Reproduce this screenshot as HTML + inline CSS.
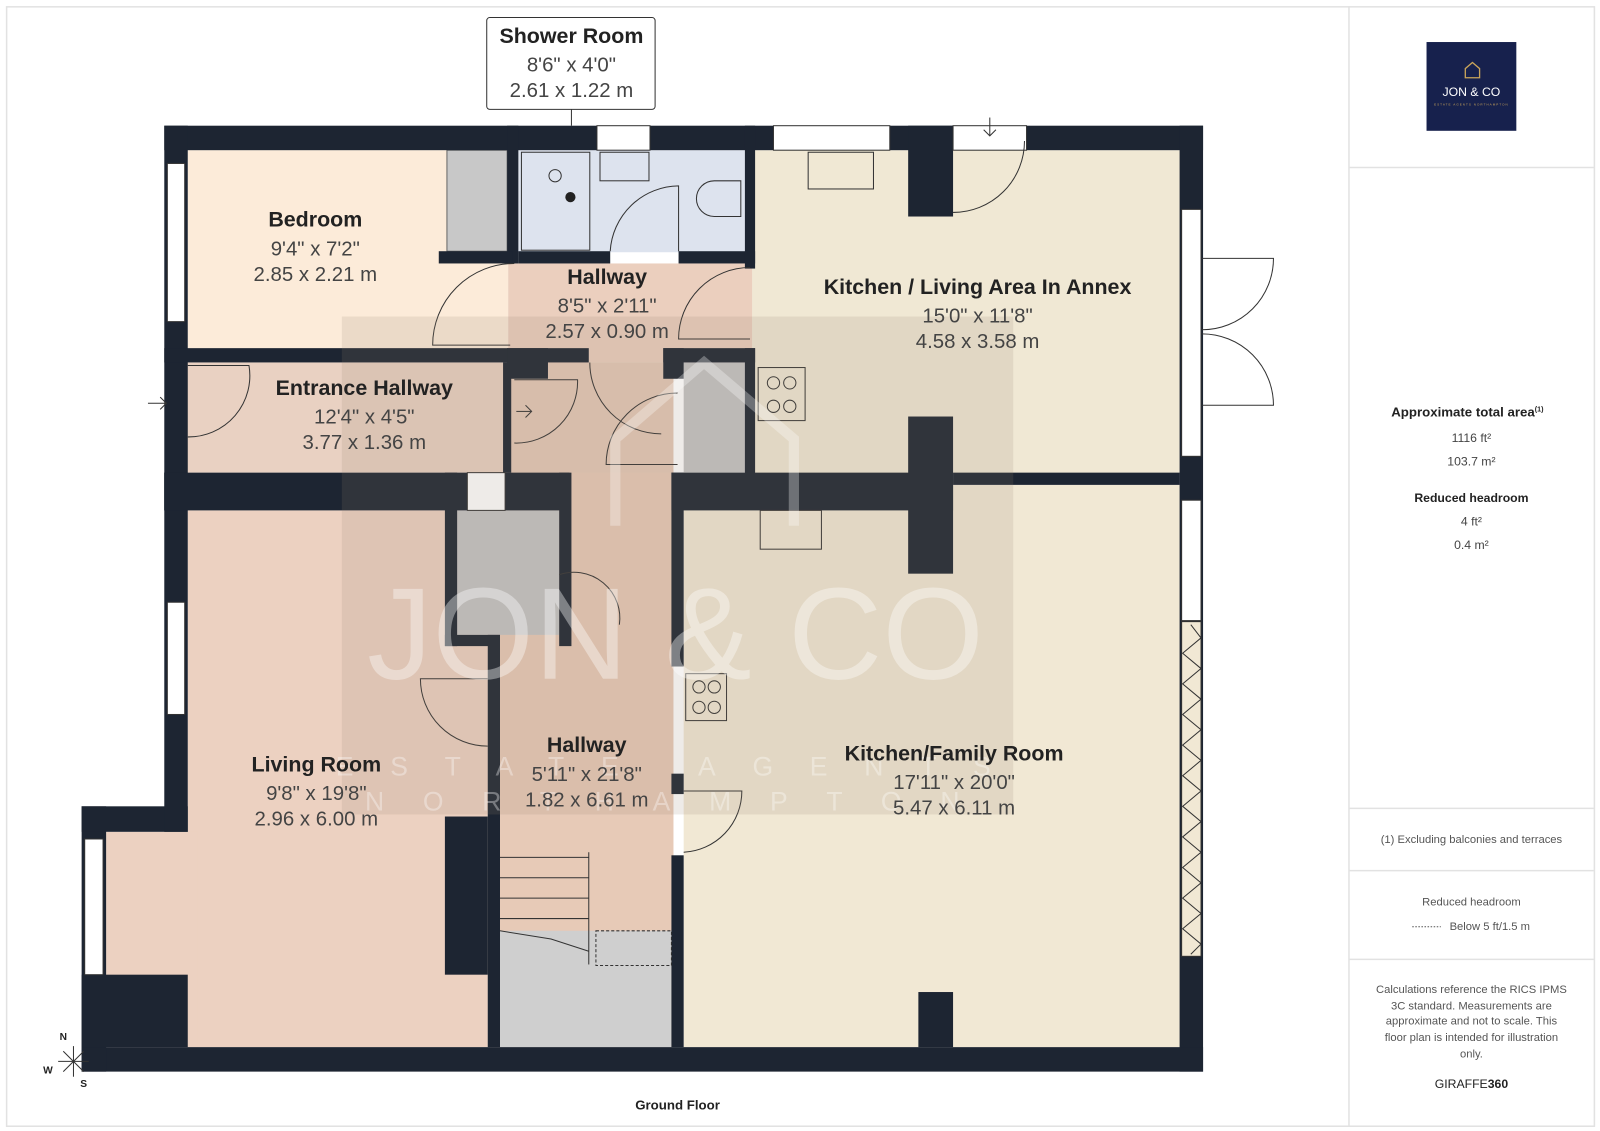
<!DOCTYPE html>
<html><head><meta charset="utf-8"><style>
html,body{margin:0;padding:0;background:#fff}
svg{display:block}
text{font-family:"Liberation Sans",sans-serif}
</style></head><body>
<svg width="1600" height="1131" viewBox="0 0 1568 1108" xmlns="http://www.w3.org/2000/svg">
<rect x="0" y="0" width="1568" height="1108" fill="#fff"/>
<rect x="6.5" y="6.5" width="1556" height="1097" fill="none" stroke="#e2e2e2" stroke-width="1.5"/>
<line x1="1322" y1="6" x2="1322" y2="1103" stroke="#e2e2e2" stroke-width="1.5"/>
<g stroke="#e2e2e2" stroke-width="1.5">
<line x1="1322" y1="164" x2="1562" y2="164"/>
<line x1="1322" y1="792" x2="1562" y2="792"/>
<line x1="1322" y1="853" x2="1562" y2="853"/>
<line x1="1322" y1="940" x2="1562" y2="940"/>
</g>
<!-- logo -->
<rect x="1398" y="41" width="88" height="87" fill="#17214d"/>
<path d="M1436 76 v-9 l7 -6 l7 6 v9 z" fill="none" stroke="#c9a45a" stroke-width="1.3"/>
<text x="1442" y="94" font-size="12" fill="#fff" text-anchor="middle">JON &amp; CO</text>
<text x="1442" y="103" font-size="3" fill="#c9a45a" text-anchor="middle" letter-spacing="1">ESTATE AGENTS NORTHAMPTON</text>
<!-- right text -->
<g fill="#222" text-anchor="middle">
<text x="1438" y="408" font-size="13" font-weight="bold">Approximate total area<tspan font-size="7" dy="-5">(1)</tspan></text>
<text x="1442" y="433" font-size="12" fill="#444">1116 ft²</text>
<text x="1442" y="456" font-size="12" fill="#444">103.7 m²</text>
<text x="1442" y="492" font-size="12" font-weight="bold">Reduced headroom</text>
<text x="1442" y="515" font-size="12" fill="#444">4 ft²</text>
<text x="1442" y="538" font-size="12" fill="#444">0.4 m²</text>
<text x="1442" y="826" font-size="11" fill="#555">(1) Excluding balconies and terraces</text>
<text x="1442" y="887" font-size="11" fill="#555">Reduced headroom</text>
<text x="1460" y="911" font-size="11" fill="#555">Below 5 ft/1.5 m</text>
<text x="1442" y="973" font-size="11" fill="#555">Calculations reference the RICS IPMS</text>
<text x="1442" y="989" font-size="11" fill="#555">3C standard. Measurements are</text>
<text x="1442" y="1004" font-size="11" fill="#555">approximate and not to scale. This</text>
<text x="1442" y="1020" font-size="11" fill="#555">floor plan is intended for illustration</text>
<text x="1442" y="1036" font-size="11" fill="#555">only.</text>
<text x="1442" y="1066" font-size="12" fill="#222">GIRAFFE<tspan font-weight="bold">360</tspan></text>
</g>
<line x1="1384" y1="908" x2="1412" y2="908" stroke="#555" stroke-dasharray="1.5,1.5"/>

<!-- room fills -->
<rect x="184" y="147" width="314" height="195" fill="#fcebd9"/>
<rect x="438" y="147" width="59" height="99" fill="#c8c8c8" stroke="#666" stroke-width="1"/>
<rect x="508" y="147" width="222" height="100" fill="#dde3ee"/>
<rect x="498" y="258" width="240" height="97" fill="#ebcfbe"/>
<rect x="737" y="147" width="420" height="317" fill="#f0e8d4"/>
<rect x="162" y="355" width="336" height="108" fill="#e9d1c2"/>
<rect x="498" y="355" width="162" height="150" fill="#e4c9b7"/>
<rect x="184" y="500" width="294" height="526" fill="#ecd1c1"/>
<rect x="104" y="815" width="90" height="211" fill="#ecd1c1"/>
<rect x="478" y="463" width="182" height="563" fill="#e7cab7"/>
<rect x="448" y="500" width="100" height="122" fill="#c4c4c4"/>
<rect x="490" y="912" width="168" height="114" fill="#cfcfcf"/>
<rect x="670" y="475" width="487" height="551" fill="#f1e8d4"/>
<rect x="670" y="355" width="67" height="108" fill="#c4c4c4"/>

<!-- walls -->
<g fill="#1d2532">
<rect x="161" y="123" width="1018" height="24"/>
<rect x="161" y="123" width="23" height="377"/>
<rect x="1156" y="123" width="23" height="927"/>
<rect x="80" y="1026" width="1099" height="24"/>
<rect x="80" y="790" width="24" height="260"/>
<rect x="80" y="790" width="104" height="25"/>
<rect x="161" y="463" width="23" height="352"/>
<rect x="80" y="955" width="104" height="71"/>
<rect x="497" y="123" width="11" height="135"/>
<rect x="430" y="246" width="72" height="12"/>
<rect x="508" y="246" width="90" height="12"/>
<rect x="665" y="246" width="75" height="12"/>
<rect x="730" y="123" width="10" height="140"/>
<rect x="890" y="123" width="44" height="89"/>
<rect x="161" y="341" width="337" height="14"/>
<rect x="497" y="341" width="80" height="14"/>
<rect x="497" y="341" width="40" height="30"/>
<rect x="650" y="341" width="90" height="14"/>
<rect x="650" y="341" width="20" height="30"/>
<rect x="730" y="341" width="10" height="130"/>
<rect x="493" y="355" width="8" height="108"/>
<rect x="161" y="463" width="300" height="37"/>
<rect x="495" y="463" width="63" height="37"/>
<rect x="436" y="463" width="12" height="170"/>
<rect x="436" y="622" width="54" height="11"/>
<rect x="548" y="463" width="12" height="170"/>
<rect x="478" y="622" width="12" height="404"/>
<rect x="436" y="800" width="42" height="155"/>
<rect x="658" y="463" width="12" height="190"/>
<rect x="658" y="758" width="12" height="20"/>
<rect x="658" y="838" width="12" height="188"/>
<rect x="658" y="463" width="276" height="37"/>
<rect x="890" y="408" width="44" height="154"/>
<rect x="934" y="463" width="222" height="12"/>
<rect x="900" y="972" width="34" height="54"/>
</g>
<!-- windows -->
<g fill="#fff" stroke="#333" stroke-width="1">
<rect x="585" y="123" width="52" height="24"/>
<rect x="758" y="123" width="114" height="24"/>
<rect x="934" y="123" width="72" height="24"/>
<rect x="164" y="160" width="17" height="155"/>
<rect x="164" y="590" width="17" height="110"/>
<rect x="83" y="822" width="18" height="133"/>
<rect x="1158" y="490" width="19" height="118"/>
<rect x="1158" y="205" width="19" height="242"/>
<rect x="458" y="463" width="37" height="37"/>
<rect x="1158" y="609" width="19" height="328" fill="#f1e8d4"/>
</g>
<!-- bifold zigzag -->
<polyline points="1167,612 1177,625 1159,640 1177,655 1159,670 1177,685 1159,700 1177,715 1159,730 1177,745 1159,760 1177,775 1159,790 1177,805 1159,820 1177,835 1159,850 1177,865 1159,880 1177,895 1159,910 1177,925 1167,935" fill="none" stroke="#333" stroke-width="1"/>
<!-- doors -->
<g fill="none" stroke="#333" stroke-width="1">
<path d="M504 258 A80 80 0 0 0 424 338 L500 338"/>
<path d="M598 246 A68 68 0 0 1 665 182 L665 246"/>
<path d="M735 262 A70 70 0 0 0 665 332 L735 332"/>
<path d="M934 208 A70 70 0 0 0 1004 138"/>
<path d="M184 358 L244 358 A60 60 0 0 1 184 428"/>
<path d="M504 372 L566 372 A60 60 0 0 1 504 434"/>
<path d="M578 355 A70 70 0 0 0 648 425"/>
<path d="M664 385 A70 70 0 0 0 594 455 L664 455"/>
<path d="M548 563 A45 45 0 0 1 607 612"/>
<path d="M478 665 L412 665 A66 66 0 0 0 478 731"/>
<path d="M670 775 L727 775 A60 60 0 0 1 670 835"/>
<path d="M1178 253 L1248 253 A70 70 0 0 1 1178 323"/>
<path d="M1178 397 L1248 397 A70 70 0 0 0 1178 327"/>
<line x1="145" y1="395" x2="163" y2="395"/><path d="M157 389 L163 395 L157 401"/>
<line x1="506" y1="403" x2="521" y2="403"/><path d="M515 397 L521 403 L515 409"/>
<line x1="970" y1="115" x2="970" y2="133"/><path d="M964 127 L970 133 L976 127"/>
<!-- fixtures -->
<rect x="511" y="149" width="67" height="96" stroke="#333"/>
<rect x="588" y="149" width="48" height="28"/>
<path d="M700 177 L726 177 L726 212 L700 212 A17.5 17.5 0 0 1 700 177"/>
<rect x="792" y="149" width="64" height="36"/>
<rect x="745" y="500" width="60" height="38"/>
<rect x="743" y="360" width="46" height="52"/>
<rect x="672" y="660" width="40" height="46"/>
<circle cx="544" cy="172" r="6"/>
<circle cx="758" cy="375" r="6"/><circle cx="774" cy="375" r="6"/><circle cx="758" cy="398" r="6"/><circle cx="774" cy="398" r="6"/>
<circle cx="685" cy="673" r="6"/><circle cx="700" cy="673" r="6"/><circle cx="685" cy="693" r="6"/><circle cx="700" cy="693" r="6"/>
<line x1="490" y1="840" x2="577" y2="840"/><line x1="490" y1="860" x2="577" y2="860"/><line x1="490" y1="880" x2="577" y2="880"/><line x1="490" y1="900" x2="577" y2="900"/>
<line x1="577" y1="835" x2="577" y2="945"/>
<path d="M490 912 L540 920 L577 932"/>
<rect x="584" y="912" width="74" height="34" stroke-dasharray="3,2"/>
<line x1="560" y1="100" x2="560" y2="123"/>
</g>
<circle cx="559" cy="193" r="5" fill="#222"/>

<!-- watermark -->
<rect x="335" y="310" width="658" height="488" fill="rgba(150,130,110,0.16)"/>
<path d="M603 515 V430 L690 355 L778 430 V515" fill="none" stroke="rgba(255,255,255,0.3)" stroke-width="10"/>
<text x="662" y="665" font-size="128" fill="rgba(255,255,255,0.38)" text-anchor="middle">JON &amp; CO</text>
<text x="668" y="760" font-size="26" fill="rgba(255,255,255,0.35)" text-anchor="middle" letter-spacing="36">ESTATE AGENTS</text>
<text x="668" y="794" font-size="26" fill="rgba(255,255,255,0.35)" text-anchor="middle" letter-spacing="38">NORTHAMPTON</text>

<!-- labels -->
<g text-anchor="middle" fill="#222">
<rect x="477" y="17" width="165" height="90" rx="3" fill="#fff" stroke="#333" stroke-width="1"/>
<text x="560" y="42" font-size="21" font-weight="bold">Shower Room</text>
<text x="560" y="70" font-size="20" fill="#444">8'6" x 4'0"</text>
<text x="560" y="95" font-size="20" fill="#444">2.61 x 1.22 m</text>
<text x="309" y="222" font-size="21" font-weight="bold">Bedroom</text>
<text x="309" y="250" font-size="20" fill="#444">9'4" x 7'2"</text>
<text x="309" y="275" font-size="20" fill="#444">2.85 x 2.21 m</text>
<text x="595" y="278" font-size="21" font-weight="bold">Hallway</text>
<text x="595" y="306" font-size="20" fill="#444">8'5" x 2'11"</text>
<text x="595" y="331" font-size="20" fill="#444">2.57 x 0.90 m</text>
<text x="958" y="288" font-size="21" font-weight="bold">Kitchen / Living Area In Annex</text>
<text x="958" y="316" font-size="20" fill="#444">15'0" x 11'8"</text>
<text x="958" y="341" font-size="20" fill="#444">4.58 x 3.58 m</text>
<text x="357" y="387" font-size="21" font-weight="bold">Entrance Hallway</text>
<text x="357" y="415" font-size="20" fill="#444">12'4" x 4'5"</text>
<text x="357" y="440" font-size="20" fill="#444">3.77 x 1.36 m</text>
<text x="310" y="756" font-size="21" font-weight="bold">Living Room</text>
<text x="310" y="784" font-size="20" fill="#444">9'8" x 19'8"</text>
<text x="310" y="809" font-size="20" fill="#444">2.96 x 6.00 m</text>
<text x="575" y="737" font-size="21" font-weight="bold">Hallway</text>
<text x="575" y="765" font-size="20" fill="#444">5'11" x 21'8"</text>
<text x="575" y="790" font-size="20" fill="#444">1.82 x 6.61 m</text>
<text x="935" y="745" font-size="21" font-weight="bold">Kitchen/Family Room</text>
<text x="935" y="773" font-size="20" fill="#444">17'11" x 20'0"</text>
<text x="935" y="798" font-size="20" fill="#444">5.47 x 6.11 m</text>
<text x="664" y="1087" font-size="13" font-weight="bold">Ground Floor</text>
<text x="62" y="1019" font-size="10" font-weight="bold">N</text>
<text x="47" y="1052" font-size="10" font-weight="bold">W</text>
<text x="82" y="1065" font-size="10" font-weight="bold">S</text>
</g>
<g stroke="#333" stroke-width="1"><line x1="72" y1="1025" x2="72" y2="1055"/><line x1="57" y1="1040" x2="87" y2="1040"/><line x1="62" y1="1030" x2="82" y2="1050"/><line x1="62" y1="1050" x2="82" y2="1030"/></g>
</svg>
</body></html>
